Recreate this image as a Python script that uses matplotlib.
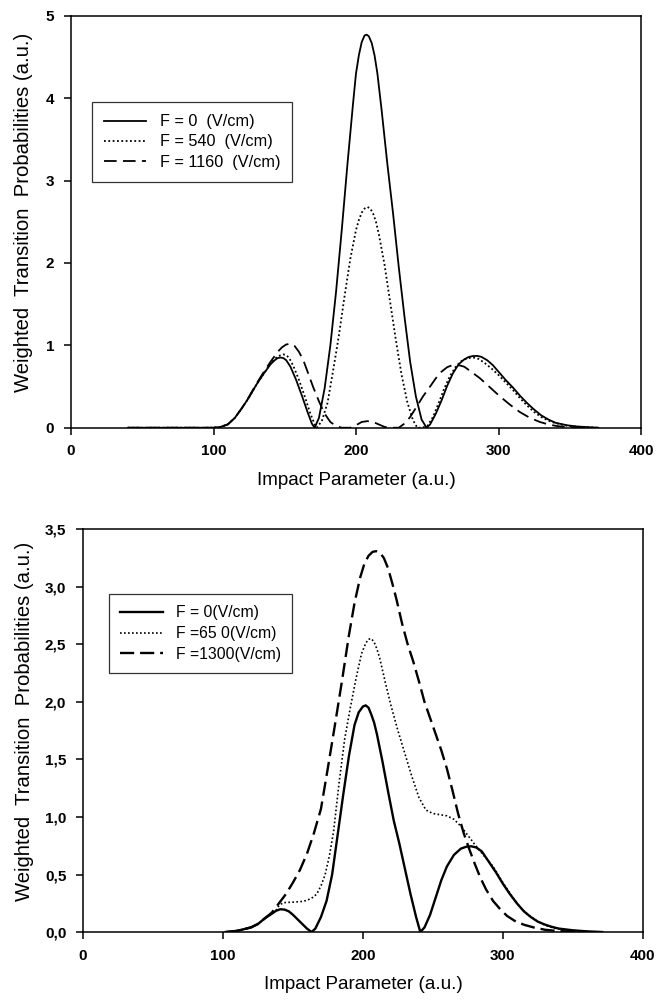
import matplotlib
matplotlib.use("Agg")
import matplotlib.pyplot as plt

plt.rcParams['font.family'] = ['Liberation Sans', 'DejaVu Sans']

# ---- top panel data (impact parameter, weighted probability) ----
top_x0 = [40, 100, 105, 110, 115, 120, 125, 130, 135, 140, 143, 145, 147, 149, 151, 154, 158, 162, 166, 169, 171,
          174, 178, 182, 186, 190, 194, 198, 200, 202, 204, 206, 207.5, 209, 211, 213, 215, 218, 222, 226, 230,
          234, 238, 242, 246, 249.5, 252, 256, 260, 264, 268, 272, 276, 279, 282, 285, 288, 292, 296, 300, 305,
          310, 315, 320, 325, 330, 335, 340, 348, 355, 365, 370]
top_y0 = [0, 0, 0.01, 0.04, 0.12, 0.24, 0.37, 0.52, 0.65, 0.77, 0.82, 0.845, 0.852, 0.845, 0.82, 0.74, 0.58, 0.39, 0.19,
          0.05, 0.0, 0.12, 0.48, 1.0, 1.65, 2.4, 3.2, 3.95, 4.3, 4.52, 4.68, 4.76, 4.77, 4.75, 4.67, 4.52, 4.3, 3.85,
          3.2, 2.6, 1.95, 1.35, 0.8, 0.38, 0.1, 0.0, 0.04, 0.17, 0.33, 0.51, 0.66, 0.77, 0.83, 0.858, 0.87, 0.872, 0.86,
          0.82, 0.76, 0.68, 0.58, 0.49, 0.39, 0.30, 0.22, 0.15, 0.10, 0.06, 0.03, 0.015, 0.005, 0]

top_x540 = [40, 100, 105, 110, 115, 120, 125, 130, 135, 140, 144, 147, 149, 151, 153, 156, 160, 164, 168, 171,
            172.4, 176, 180, 184, 188, 192, 196, 200, 202, 204, 206, 208, 210, 212, 214, 216, 220, 224, 228, 232,
            236, 240, 243, 246, 250, 254, 258, 262, 266, 270, 274, 277, 280, 283, 286, 290, 295, 300, 305, 310,
            315, 320, 325, 330, 335, 340, 348, 355, 365, 370]
top_y540 = [0, 0, 0.01, 0.04, 0.12, 0.24, 0.37, 0.52, 0.65, 0.78, 0.85, 0.88, 0.89, 0.88, 0.85, 0.75, 0.58, 0.38, 0.17,
            0.04, 0.0, 0.08, 0.3, 0.7, 1.12, 1.6, 2.05, 2.4, 2.52, 2.61, 2.66, 2.68, 2.66, 2.6, 2.5, 2.35, 1.98, 1.52,
            1.06, 0.64, 0.31, 0.09, 0.0, 0.0, 0.02, 0.13, 0.3, 0.48, 0.63, 0.74, 0.81, 0.835, 0.848, 0.85, 0.835, 0.79,
            0.72, 0.64, 0.55, 0.46, 0.36, 0.27, 0.19, 0.13, 0.085, 0.055, 0.025, 0.012, 0.004, 0]

top_x1160 = [40, 100, 105, 110, 115, 120, 125, 130, 135, 140, 145, 148, 151, 154, 157, 160, 163, 166, 170, 174,
             178, 182, 186, 190, 196, 200, 204, 208, 212, 216, 220, 224, 230, 234, 238, 242, 247, 252, 256, 260,
             264, 267, 270, 273, 276, 280, 287, 294, 301, 308, 315, 322, 329, 335, 341, 350, 360]
top_y1160 = [0, 0, 0.01, 0.04, 0.12, 0.24, 0.38, 0.53, 0.67, 0.8, 0.92, 0.975, 1.01, 1.02, 0.99, 0.92, 0.82, 0.68, 0.49,
             0.32, 0.17, 0.07, 0.02, 0.0, 0.0, 0.03, 0.07, 0.08, 0.07, 0.04, 0.01, 0.0, 0.0, 0.05, 0.13, 0.24, 0.38, 0.5,
             0.6, 0.68, 0.735, 0.755, 0.762, 0.755, 0.74, 0.69, 0.60, 0.49, 0.38, 0.28, 0.19, 0.12, 0.07, 0.04, 0.02,
             0.005, 0]

# ---- bottom panel data ----
bot_x0 = [102, 110, 120, 125, 130, 135, 138, 141, 144, 147, 150, 155, 160, 163.3, 166, 170, 174, 178, 182, 186,
          190, 194, 197, 200, 202, 204, 206, 208, 210, 214, 218, 222, 226, 230, 234, 238, 241, 244, 248, 252,
          256, 260, 265, 270, 274, 277.5, 281, 285, 290, 295, 300, 305, 310, 315, 320, 325, 330, 335, 340, 350,
          360, 371]
bot_y0 = [0, 0.01, 0.04, 0.07, 0.12, 0.16, 0.185, 0.198, 0.195, 0.18, 0.15, 0.09, 0.03, 0.0, 0.03, 0.13, 0.27, 0.5,
          0.85, 1.2, 1.53, 1.8, 1.91, 1.96, 1.97, 1.95, 1.89, 1.82, 1.72, 1.48, 1.22, 0.97, 0.77, 0.55, 0.33, 0.13,
          0.0, 0.04, 0.15, 0.3, 0.45, 0.57, 0.67, 0.725, 0.742, 0.745, 0.735, 0.7, 0.61, 0.52, 0.42, 0.33, 0.25, 0.18,
          0.13, 0.09, 0.065, 0.045, 0.03, 0.015, 0.006, 0]

bot_x650 = [102, 110, 120, 125, 130, 135, 138, 140, 143, 150, 156, 160, 164, 167, 170, 173, 176, 179, 183,
            187, 191, 195, 199, 202, 204, 206, 208, 210, 212, 216, 220, 225, 230, 235, 240, 245, 250, 255, 260,
            265, 270, 275, 280, 286, 293, 300, 306, 312, 318, 324, 330, 336, 343, 355, 365]
bot_y650 = [0, 0.01, 0.04, 0.07, 0.12, 0.16, 0.19, 0.23, 0.255, 0.26, 0.265, 0.275, 0.3, 0.33, 0.4, 0.5, 0.66, 0.87,
            1.3, 1.68, 1.95, 2.2, 2.42, 2.51, 2.545, 2.55, 2.52, 2.46, 2.38, 2.17, 1.97, 1.75, 1.55, 1.35, 1.17, 1.06,
            1.03, 1.02, 1.01, 0.98, 0.92, 0.84, 0.76, 0.67, 0.57, 0.43, 0.32, 0.22, 0.15, 0.1, 0.06, 0.035, 0.02,
            0.007, 0]

bot_x1300 = [102, 110, 120, 125, 130, 135, 140, 145, 150, 155, 160, 165, 170, 175, 180, 185, 190, 194, 198,
             201, 204, 207, 209.5, 212, 215, 218, 221, 224, 228, 232, 236, 240, 244, 248, 252, 256, 260, 264, 268,
             272, 276, 280, 284, 288, 293, 298, 303, 310, 316, 322, 330, 338, 350, 360]
bot_y1300 = [0, 0.01, 0.04, 0.07, 0.12, 0.17, 0.25, 0.33, 0.43, 0.54, 0.68, 0.86, 1.07, 1.43, 1.8, 2.18, 2.58, 2.86,
             3.08, 3.2, 3.27, 3.305, 3.31, 3.3, 3.25, 3.16, 3.03, 2.89, 2.68, 2.5, 2.35, 2.18, 2.0, 1.86, 1.72, 1.58,
             1.42, 1.23, 1.03, 0.86, 0.72, 0.59, 0.47, 0.37, 0.27, 0.2, 0.14, 0.085, 0.06, 0.04, 0.02, 0.01, 0.003, 0]

x_ticks = [0, 100, 200, 300, 400]
top_yticks = [0, 1, 2, 3, 4, 5]
bot_yticks = [0, 0.5, 1.0, 1.5, 2.0, 2.5, 3.0, 3.5]
bot_ylabels = ['0,0', '0,5', '1,0', '1,5', '2,0', '2,5', '3,0', '3,5']

top_labels = ['F = 0  (V/cm)', 'F = 540  (V/cm)', 'F = 1160  (V/cm)']
bot_labels = ['F = 0(V/cm)', 'F =65 0(V/cm)', 'F =1300(V/cm)']

ylabel = 'Weighted  Transition  Probabilities (a.u.)'
xlabel = 'Impact Parameter (a.u.)'

fig = plt.figure(figsize=(6.68, 10.01), dpi=100)
ax1 = fig.add_axes([0.1063, 0.5727, 0.8533, 0.4116])
ax2 = fig.add_axes([0.1243, 0.0689, 0.838, 0.4023])

dot = (0, (1, 1.4))

# top
ax1.plot(top_x0, top_y0, color='black', lw=1.3, ls='-', label=top_labels[0])
ax1.plot(top_x540, top_y540, color='black', lw=1.3, ls=dot, label=top_labels[1])
ax1.plot(top_x1160, top_y1160, color='black', lw=1.3, ls=(0, (7, 3.5)), label=top_labels[2])
ax1.set_xlim(0, 400)
ax1.set_ylim(0, 5)
ax1.set_yticks(top_yticks)

# bottom
ax2.plot(bot_x0, bot_y0, color='black', lw=1.7, ls='-', label=bot_labels[0])
ax2.plot(bot_x650, bot_y650, color='black', lw=1.2, ls=dot, label=bot_labels[1])
ax2.plot(bot_x1300, bot_y1300, color='black', lw=1.7, ls=(0, (6, 2.5)), label=bot_labels[2])
ax2.set_xlim(0, 400)
ax2.set_ylim(0, 3.5)
ax2.set_yticks(bot_yticks)
ax2.set_yticklabels(bot_ylabels)

for ax in (ax1, ax2):
    ax.set_xticks(x_ticks)
    ax.tick_params(direction='out', length=5, width=1.1, labelsize=11, pad=7, top=False, right=False)
    for lab in ax.get_xticklabels() + ax.get_yticklabels():
        lab.set_fontweight('bold')
    for s in ax.spines.values():
        s.set_linewidth(1.1)
    ax.set_xlabel(xlabel, fontsize=13.6, labelpad=9.5)
    ax.set_ylabel(ylabel, fontsize=14.6)

ax1.yaxis.set_label_coords(-0.066, 0.522)
ax2.yaxis.set_label_coords(-0.088, 0.522)

leg1 = ax1.legend(bbox_to_anchor=(0.036, 0.79), loc='upper left', borderaxespad=0, fontsize=11.7,
                  frameon=True, fancybox=False, edgecolor='black', handlelength=2.64, handletextpad=0.82,
                  labelspacing=0.32, borderpad=0.74)
leg1.get_frame().set_linewidth(0.9)
leg2 = ax2.legend(bbox_to_anchor=(0.0457, 0.839), loc='upper left', borderaxespad=0, fontsize=11.3,
                  frameon=True, fancybox=False, edgecolor='black', handlelength=2.75, handletextpad=0.83,
                  labelspacing=0.36, borderpad=0.72)
leg2.get_frame().set_linewidth(0.9)

fig.savefig('out.png', dpi=100)
